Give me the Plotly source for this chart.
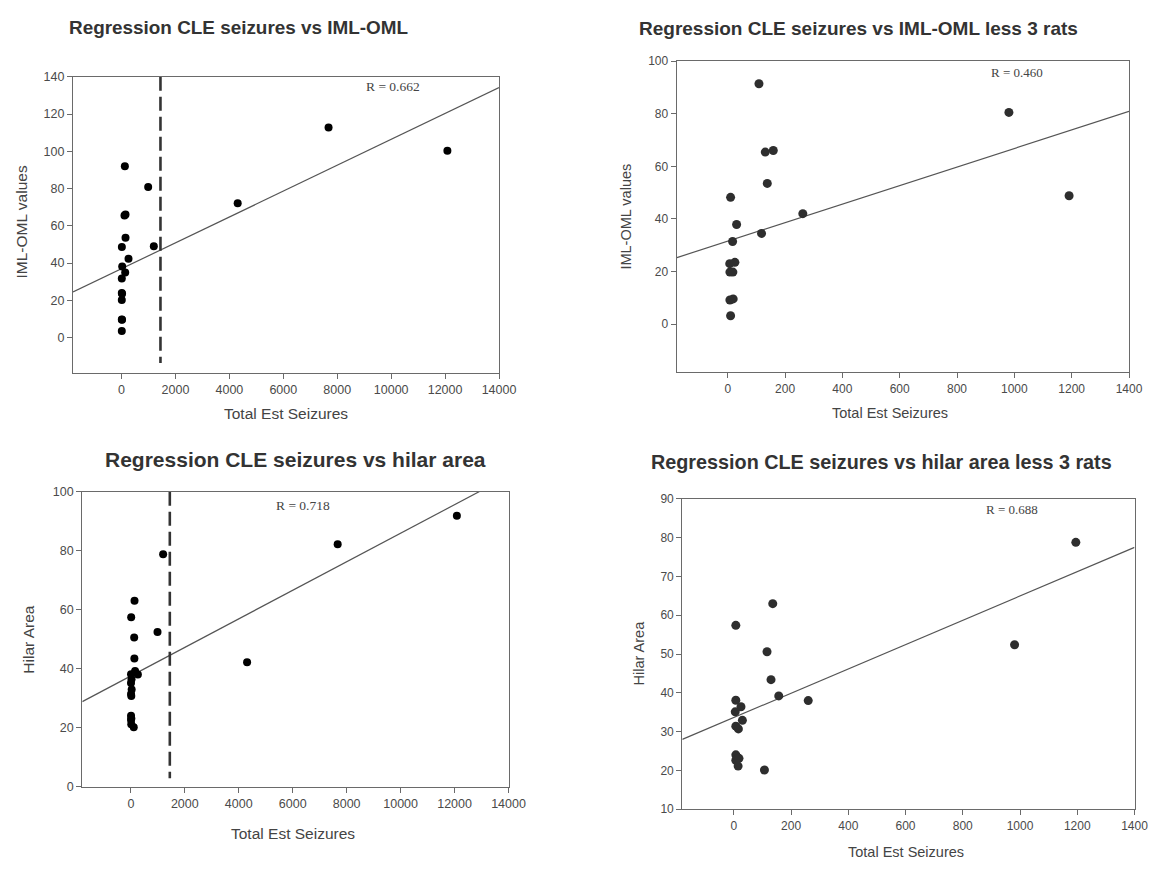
import plotly.graph_objects as go

# ---------------- data ----------------
# Panel 1: IML-OML vs total seizures (all rats)
p1_x = [123, 988, 148, 148, 12, 1197, 259, 25, 136, 10, 10, 10, 10, 10, 4308, 7678, 12086, 20, 18, 110]
p1_y = [92.0, 80.9, 66.1, 53.6, 48.7, 49.0, 42.4, 38.2, 35.0, 31.7, 23.9, 20.2, 9.7, 3.5, 72.1, 112.8, 100.3, 23.5, 9.6, 65.5]
p1_fit_x = [-1800, 14000]
p1_fit_y = [24.5, 134.2]
p1_thresh = 1444
p1_R = "R = 0.662"

# Panel 2: IML-OML vs total seizures (less 3 rats)
p2_x = [109, 131, 159, 138, 10, 262, 31, 118, 17, 7, 25, 7.6, 18, 7.6, 19, 10, 981, 1191]
p2_y = [91.4, 65.4, 66.0, 53.5, 48.2, 42.0, 37.9, 34.5, 31.4, 23.0, 23.5, 19.8, 19.8, 9.2, 9.6, 3.2, 80.5, 48.8]
p2_fit_x = [-180, 1400]
p2_fit_y = [25.2, 80.9]
p2_R = "R = 0.460"

# Panel 3: hilar area vs total seizures (all rats)
p3_x = [1197, 136, 12, 988, 123, 130, 157, 260, 7, 25, 5, 30, 7, 16, 7, 7, 18, 15, 107, 4309, 7667, 12086]
p3_y = [78.8, 63.0, 57.4, 52.4, 50.6, 43.4, 39.2, 38.0, 38.1, 36.4, 35.1, 32.9, 31.4, 30.7, 24.0, 22.6, 23.1, 21.1, 20.1, 42.2, 82.2, 91.9]
p3_fit_x = [-1800, 14000]
p3_fit_y = [28.8, 105.3]
p3_thresh = 1444
p3_R = "R = 0.718"

# Panel 4: hilar area vs total seizures (less 3 rats)
p4_x = [136, 7, 116, 130, 157, 260, 7, 25, 5, 30, 7, 16, 7, 7, 18, 15, 107, 1195, 981]
p4_y = [63.0, 57.4, 50.6, 43.4, 39.2, 38.0, 38.1, 36.4, 35.1, 32.9, 31.4, 30.7, 24.0, 22.6, 23.1, 21.1, 20.1, 78.8, 52.4]
p4_fit_x = [-180, 1400]
p4_fit_y = [28.0, 77.5]
p4_R = "R = 0.688"

titles = ["Regression CLE seizures vs IML-OML",
          "Regression CLE seizures vs IML-OML less 3 rats",
          "Regression CLE seizures vs hilar area",
          "Regression CLE seizures vs hilar area less 3 rats"]
x_title = "Total Est Seizures"
y_titles = ["IML-OML values", "IML-OML values", "Hilar Area", "Hilar Area"]

# ---------------- layout helpers ----------------
W, H = 1157, 869
XW = 1140  # effective horizontal extent observed in the rendered picture
def px(x):
    return min(x / XW, 1.0)
def py(y):
    return 1 - y / H

fig = go.Figure()

panels = [
    dict(x=p1_x, y=p1_y, fx=p1_fit_x, fy=p1_fit_y, th=p1_thresh, th_y=[140, -13.6], R=p1_R,
         box=(73, 499, 71, 372), xr=[-1800, 14000], yr=[-19, 140], xd=2000, yd=20,
         col="#000000", ms=8, Rpos=(393, 81), fs_tick=12.5, fs_ax=15.5, fs_R=13.5, fs_t=18.9,
         title_pos=(238, 21), xt_pos=(286, 413), yt_pos=(21, 219)),
    dict(x=p2_x, y=p2_y, fx=p2_fit_x, fy=p2_fit_y, th=None, R=p2_R,
         box=(676.7, 1129, 55, 371), xr=[-178, 1400], yr=[-18.2, 100], xd=200, yd=20,
         col="#2e2e2e", ms=9, Rpos=(1017, 67), fs_tick=12, fs_ax=14.5, fs_R=13, fs_t=19,
         title_pos=(858, 22), xt_pos=(890, 413), yt_pos=(626, 213)),
    dict(x=p3_x, y=p3_y, fx=p3_fit_x, fy=p3_fit_y, th=p3_thresh, th_y=[100, 2.8], R=p3_R,
         box=(82.3, 508.5, 492.7, 792.3), xr=[-1800, 14000], yr=[0, 100], xd=2000, yd=20,
         col="#000000", ms=8, Rpos=(303, 507), fs_tick=12.5, fs_ax=15.5, fs_R=13.5, fs_t=21,
         title_pos=(295, 460), xt_pos=(293, 840), yt_pos=(29, 643)),
    dict(x=p4_x, y=p4_y, fx=p4_fit_x, fy=p4_fit_y, th=None, R=p4_R,
         box=(682.3, 1134.5, 500, 815.3), xr=[-180, 1400], yr=[10, 90], xd=200, yd=10,
         col="#2e2e2e", ms=9, Rpos=(1012, 511), fs_tick=12, fs_ax=14.5, fs_R=13, fs_t=19.8,
         title_pos=(881, 462), xt_pos=(906, 859), yt_pos=(639, 657)),
]

for i, p in enumerate(panels):
    n = "" if i == 0 else str(i + 1)
    xa, ya = "x" + n, "y" + n
    # regression line
    fig.add_trace(go.Scatter(x=p["fx"], y=p["fy"], mode="lines", xaxis=xa, yaxis=ya,
                             line=dict(color="#555555", width=1.2), showlegend=False, hoverinfo="skip"))
    # threshold dashed line
    if p["th"] is not None:
        fig.add_trace(go.Scatter(x=[p["th"], p["th"]], y=p["th_y"], mode="lines", xaxis=xa, yaxis=ya,
                                 line=dict(color="#333333", width=2.6, dash="14px,6px"),
                                 showlegend=False, hoverinfo="skip"))
    # points
    fig.add_trace(go.Scatter(x=p["x"], y=p["y"], mode="markers", xaxis=xa, yaxis=ya,
                             marker=dict(color=p["col"], size=p["ms"]), showlegend=False))
    l, r, t, b = p["box"]
    axis_common = dict(showline=True, mirror=True, linecolor="#6a6a6a", linewidth=1.2,
                       ticks="outside", ticklen=5, tickcolor="#6a6a6a", showgrid=False,
                       zeroline=False, tickformat="d",
                       tickfont=dict(family="Liberation Sans, Arial", size=p["fs_tick"], color="#4a4a4a"))
    fig.layout["xaxis" + n] = dict(domain=[px(l), px(r)], range=p["xr"], dtick=p["xd"], tick0=0,
                                   anchor=ya, **axis_common)
    fig.layout["yaxis" + n] = dict(domain=[py(b), py(t)], range=p["yr"], dtick=p["yd"], tick0=0,
                                   anchor=xa, **axis_common)
    # R annotation
    fig.add_annotation(text=p["R"], x=px(p["Rpos"][0]), y=py(p["Rpos"][1]), xref="paper", yref="paper",
                       showarrow=False, xanchor="center", yanchor="middle",
                       font=dict(family="Liberation Serif, Times New Roman", size=p["fs_R"], color="#444444"))
    # title
    fig.add_annotation(text="<b>" + titles[i] + "</b>", x=px(p["title_pos"][0]), y=py(p["title_pos"][1]),
                       xref="paper", yref="paper", showarrow=False, xanchor="center", yanchor="middle",
                       font=dict(family="Liberation Sans, Arial", size=p["fs_t"], color="#333333"))
    # axis titles
    fig.add_annotation(text=x_title, x=px(p["xt_pos"][0]), y=py(p["xt_pos"][1]),
                       xref="paper", yref="paper", showarrow=False, xanchor="center", yanchor="middle",
                       font=dict(family="Liberation Sans, Arial", size=p["fs_ax"], color="#444444"))
    fig.add_annotation(text=y_titles[i], x=px(p["yt_pos"][0]), y=py(p["yt_pos"][1]), textangle=-90,
                       xref="paper", yref="paper", showarrow=False, xanchor="center", yanchor="middle",
                       font=dict(family="Liberation Sans, Arial", size=p["fs_ax"], color="#444444"))

fig.update_layout(width=W, height=H, autosize=False, margin=dict(l=0, r=0, t=0, b=0),
                  paper_bgcolor="white", plot_bgcolor="white", showlegend=False)

fig.write_html("out.html", config={"responsive": False},
               post_script="document.body.style.margin='0';document.body.style.overflow='hidden';")
